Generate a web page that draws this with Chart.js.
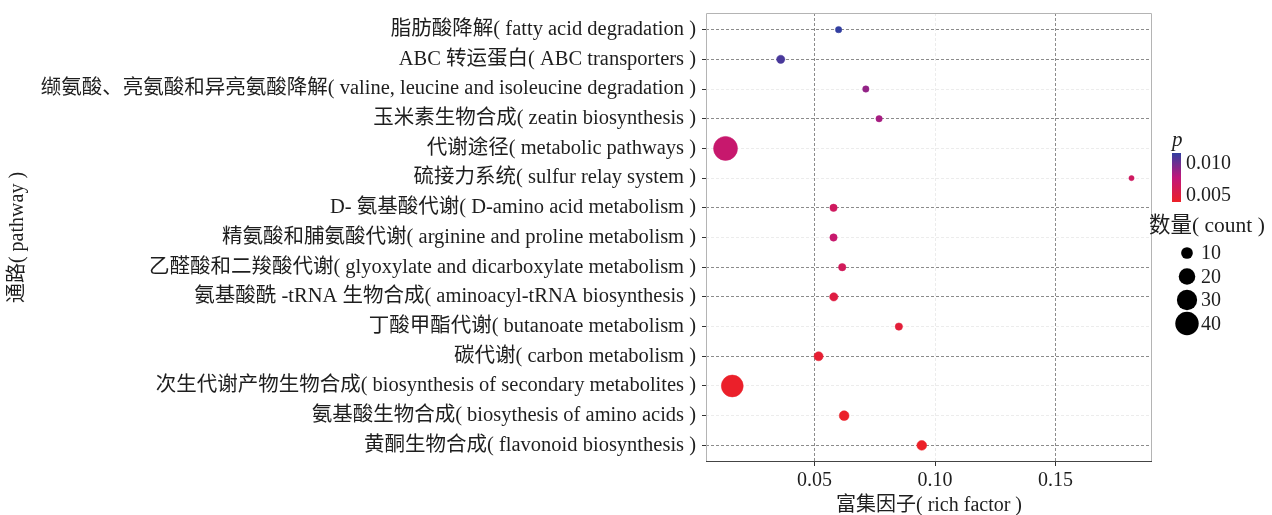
<!DOCTYPE html>
<html><head><meta charset="utf-8">
<script src="https://cdn.jsdelivr.net/npm/chart.js@4.4.1/dist/chart.umd.min.js"></script>
<style>html,body{margin:0;padding:0;background:#fff;}#wrap{position:relative;width:1272px;height:515px;}</style>
</head><body><div id="wrap"><canvas id="c" width="1272" height="515"></canvas></div>
<script>
// ---- data ----
const pathways = [
  '脂肪酸降解( fatty acid degradation )',
  'ABC 转运蛋白( ABC transporters )',
  '缬氨酸、亮氨酸和异亮氨酸降解( valine, leucine and isoleucine degradation )',
  '玉米素生物合成( zeatin biosynthesis )',
  '代谢途径( metabolic pathways )',
  '硫接力系统( sulfur relay system )',
  'D- 氨基酸代谢( D-amino acid metabolism )',
  '精氨酸和脯氨酸代谢( arginine and proline metabolism )',
  '乙醛酸和二羧酸代谢( glyoxylate and dicarboxylate metabolism )',
  '氨基酸酰 -tRNA 生物合成( aminoacyl-tRNA biosynthesis )',
  '丁酸甲酯代谢( butanoate metabolism )',
  '碳代谢( carbon metabolism )',
  '次生代谢产物生物合成( biosynthesis of secondary metabolites )',
  '氨基酸生物合成( biosythesis of amino acids )',
  '黄酮生物合成( flavonoid biosynthesis )'
];
const richFactor = [0.060, 0.036, 0.0713, 0.0768, 0.0131, 0.1815, 0.0579, 0.0579, 0.0615, 0.0580, 0.0850, 0.0517, 0.0159, 0.0623, 0.0945];
const geneCount  = [3, 5, 3, 3, 42, 2, 4, 4, 4, 5, 4, 6, 35, 7, 7];
const pValue     = [0.0116, 0.0110, 0.0090, 0.0085, 0.0072, 0.0066, 0.0065, 0.0072, 0.0063, 0.0052, 0.0048, 0.0045, 0.0041, 0.0041, 0.0040];
const xTicks = [0.05, 0.10, 0.15];
const pTicks = [0.005, 0.010];
const countTicks = [10, 20, 30, 40];
const xTitle = '富集因子( rich factor )';
const yTitle = '通路( pathway )';
const pTitle = 'p';
const countTitle = '数量( count )';

// ---- styles / mapping ----
const FONT = '"Liberation Serif", "Noto Sans CJK SC", serif';
const TXT = '#1e1e1e';
const pMin = Math.min(...pValue), pMax = Math.max(...pValue);
const colorStops = [[236, 32, 40], [192, 22, 122], [50, 62, 160]];
function pColor(p) {
  let t = (p - pMin) / (pMax - pMin);
  t = Math.max(0, Math.min(1, t));
  const seg = t < 0.5 ? 0 : 1;
  const lt = t < 0.5 ? t / 0.5 : (t - 0.5) / 0.5;
  const a = colorStops[seg], b = colorStops[seg + 1];
  const c = a.map((v, k) => Math.round(v + (b[k] - v) * lt));
  return `rgb(${c[0]},${c[1]},${c[2]})`;
}
function sizeOf(count) { return 1.85 * Math.sqrt(count); }
const strongRows = [1, 2, 4, 7, 9, 10, 12, 15];
const strongX = [0.05, 0.15];
const GRID_STRONG = '#8c8c8c', GRID_FAINT = '#ececec';

const framePlugin = {
  id: 'frame',
  beforeDatasetsDraw(chart) {
    const {ctx, chartArea: a} = chart;
    ctx.save();
    ctx.lineWidth = 1;
    ctx.strokeStyle = '#b4b4b4';
    ctx.beginPath();
    ctx.moveTo(a.left + 0.5, a.bottom);
    ctx.lineTo(a.left + 0.5, a.top + 0.5);
    ctx.lineTo(a.right - 0.5, a.top + 0.5);
    ctx.lineTo(a.right - 0.5, a.bottom);
    ctx.stroke();
    ctx.strokeStyle = '#444';
    ctx.beginPath();
    ctx.moveTo(a.left, a.bottom - 0.5);
    ctx.lineTo(a.right, a.bottom - 0.5);
    ctx.stroke();
    ctx.restore();
  }
};

const legendPlugin = {
  id: 'sideLegend',
  afterDraw(chart) {
    const ctx = chart.ctx;
    const bx = 1172, bw = 9, bTop = 153, bBot = 202;
    ctx.save();
    ctx.fillStyle = TXT;
    ctx.textBaseline = 'middle';
    ctx.textAlign = 'left';
    ctx.font = 'italic 21px "Liberation Serif", serif';
    ctx.fillText(pTitle, 1172, 140);
    const g = ctx.createLinearGradient(0, bBot, 0, bTop);
    for (let i = 0; i <= 10; i++) g.addColorStop(i / 10, pColor(pMin + (pMax - pMin) * i / 10));
    ctx.fillStyle = g;
    ctx.fillRect(bx, bTop, bw, bBot - bTop);
    ctx.fillStyle = TXT;
    ctx.font = '20px ' + FONT;
    pTicks.forEach(p => {
      const y = bBot - (p - pMin) / (pMax - pMin) * (bBot - bTop);
      ctx.fillText(p.toFixed(3), 1186, y);
    });
    ctx.font = '21.5px ' + FONT;
    ctx.fillText(countTitle, 1149, 226);
    ctx.font = '20px ' + FONT;
    countTicks.forEach((c, i) => {
      const y = 253 + i * 23.5;
      ctx.beginPath();
      ctx.arc(1187, y, sizeOf(c), 0, Math.PI * 2);
      ctx.fillStyle = '#000';
      ctx.fill();
      ctx.fillStyle = TXT;
      ctx.fillText(String(c), 1201, y + 1);
    });
    ctx.restore();
  }
};

new Chart(document.getElementById('c'), {
  type: 'bubble',
  data: {
    datasets: [{
      data: pathways.map((_, i) => ({x: richFactor[i], y: i + 1, r: sizeOf(geneCount[i])})),
      backgroundColor: pValue.map(pColor),
      borderColor: pValue.map(pColor),
      borderWidth: 0.5,
      hoverRadius: 0
    }]
  },
  options: {
    responsive: false,
    animation: false,
    devicePixelRatio: 1,
    layout: {padding: {top: 13, right: 120, left: 0, bottom: 0}},
    plugins: {legend: {display: false}, tooltip: {enabled: false}},
    scales: {
      x: {
        type: 'linear', min: 0.005, max: 0.19,
        afterBuildTicks: s => { s.ticks = xTicks.map(v => ({value: v})); },
        afterFit: s => { s.height = 53; s.paddingLeft = 0; s.paddingRight = 0; },
        ticks: {callback: v => Number(v).toFixed(2), font: {family: FONT, size: 20}, color: TXT, padding: 3, maxRotation: 0, autoSkip: false},
        grid: {color: c => (c.tick && strongX.some(v => Math.abs(v - c.tick.value) < 1e-9)) ? GRID_STRONG : GRID_FAINT, tickColor: '#333', tickLength: 4, lineWidth: 1},
        border: {display: false, dash: [3, 2]},
        title: {display: true, text: xTitle, font: {family: FONT, size: 20}, color: TXT, padding: {top: 0, bottom: -3}}
      },
      y: {
        type: 'linear', min: 0.44, max: 15.56, reverse: true,
        afterBuildTicks: s => { s.ticks = pathways.map((_, i) => ({value: i + 1})); },
        afterFit: s => { s.width = 706; s.paddingTop = 0; s.paddingBottom = 0; },
        ticks: {callback: v => pathways[Math.round(v) - 1], font: {family: FONT, size: 20.5}, color: TXT, padding: 6, autoSkip: false},
        grid: {color: c => (c.tick && strongRows.includes(Math.round(c.tick.value))) ? GRID_STRONG : GRID_FAINT, tickColor: '#333', tickLength: 4, lineWidth: 1},
        border: {display: false, dash: [3, 2]},
        title: {display: true, text: yTitle, font: {family: FONT, size: 20}, color: TXT, padding: {top: 6, bottom: 4}}
      }
    }
  },
  plugins: [framePlugin, legendPlugin]
});
</script></body></html>
